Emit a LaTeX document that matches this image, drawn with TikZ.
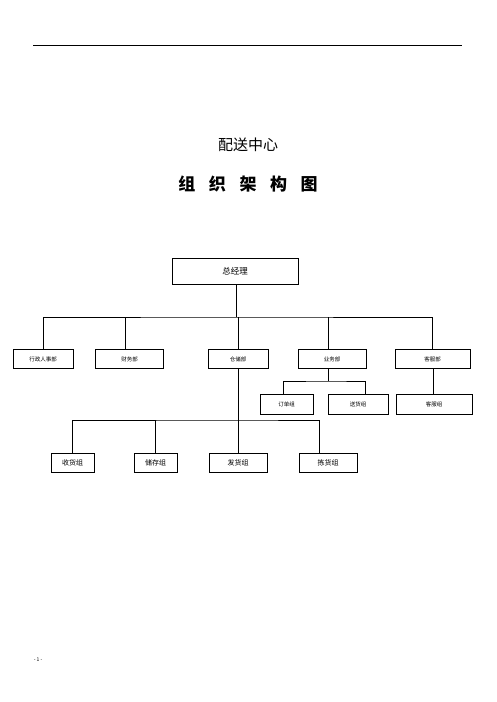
\documentclass[tikz,border=0pt]{standalone}
\usepackage{fontspec}
\setmainfont{Noto Sans CJK SC}
\usetikzlibrary{positioning}

\tikzset{
  unit/.style={draw,line width=0.6pt,inner sep=0pt,minimum height=19pt,font=\fontsize{5.5}{6}\selectfont},
  grp/.style={draw,line width=0.6pt,inner sep=0pt,minimum height=19pt,font=\fontsize{7}{8}\selectfont},
  link/.style={line width=0.6pt}
}

\begin{document}
\begin{tikzpicture}[x=1pt,y=-1pt]
  \useasboundingbox (0,0) rectangle (496,702);

  \coordinate (ruleL) at (33,45);
  \coordinate (ruleR) at (462,45);
  \draw[line width=0.5pt] (ruleL) -- (ruleR);

  \node (title) at (248,145) {\fontsize{15}{16}\selectfont 配送中心};
  \node (sub) at (248,184) {\fontsize{17}{18}\selectfont\bfseries 组\hspace{0.8em}织\hspace{0.8em}架\hspace{0.8em}构\hspace{0.8em}图};

  % top
  \node[draw,line width=0.6pt,minimum width=126pt,minimum height=26pt,font=\fontsize{8.5}{9}\selectfont] (gm) at (235,271) {总经理};

  % departments
  \node[unit,minimum width=60pt] (hr) at (43,359) {行政人事部};
  \node[unit,minimum width=68pt] (fin) at (129.5,359) {财务部};
  \node[unit,minimum width=60pt] (store) at (238,359) {仓储部};
  \node[unit,minimum width=68pt] (biz) at (332,359) {业务部};
  \node[unit,minimum width=75pt] (svc) at (432.5,359) {客服部};

  % sub groups
  \node[unit,minimum width=53pt,minimum height=20pt] (order) at (286.5,404.5) {订单组};
  \node[unit,minimum width=60pt,minimum height=20pt] (deliv) at (358,404.5) {送货组};
  \node[unit,minimum width=76pt,minimum height=20pt] (care) at (434,404.5) {客服组};

  \node[grp,minimum width=43pt] (recv) at (72.5,462.5) {收货组};
  \node[grp,minimum width=43pt] (keep) at (155.5,462.5) {储存组};
  \node[grp,minimum width=58pt] (send) at (238,462.5) {发货组};
  \node[grp,minimum width=58pt] (pick) at (328,462.5) {拣货组};

  % gm > departments
  \coordinate (busA) at (236,317);
  \draw[link] (gm.south -| busA) -- (busA);
  \draw[link] (hr.north) |- (busA) -| (svc.north);
  \draw[link] (fin.north -| 125,0) -- (125,317);
  \draw[link] (store.north) -- (store.north |- busA);
  \draw[link] (biz.north -| 328,0) -- (328,317);

  % biz > groups
  \coordinate (busB) at (328,381);
  \draw[link] (biz.south -| busB) -- (busB);
  \draw[link] (order.north -| 283,0) |- (busB) -| (deliv.north -| 365,0);
  \draw[link] (svc.south -| 433,0) -- (care.north -| 433,0);

  % store > groups
  \coordinate (busC) at (238,420);
  \draw[link] (store.south) -- (busC);
  \draw[link] (recv.north) |- (busC) -| (pick.north -| 319,0);
  \draw[link] (keep.north) -- (keep.north |- busC);
  \draw[link] (send.north) -- (busC);

  \node[font=\fontsize{5}{6}\selectfont] (page) at (38,660) {- 1 -};
\end{tikzpicture}
\end{document}
